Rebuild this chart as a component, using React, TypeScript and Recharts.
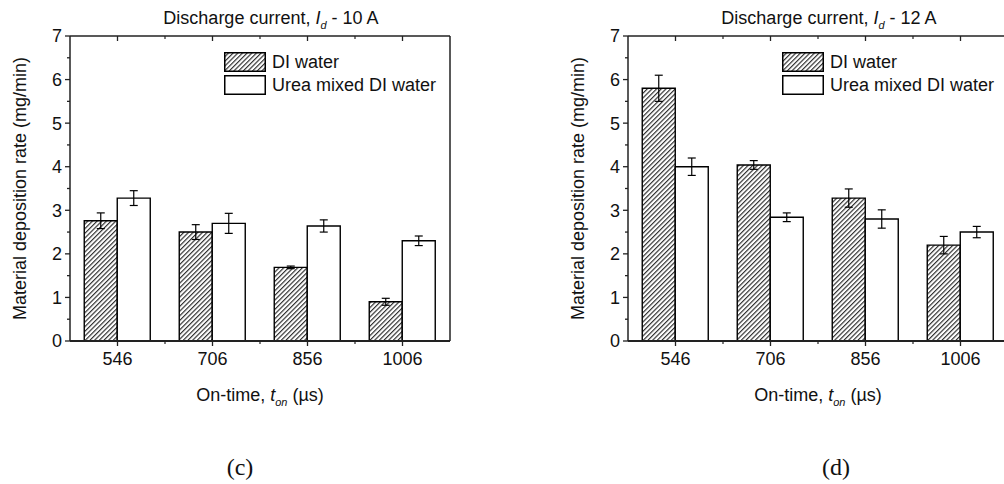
import { BarChart, Bar, XAxis, YAxis, ErrorBar, Legend } from 'recharts'

// on-time categories (µs)
const onTimes = ['546', '706', '856', '1006']

// discharge current 10 A
const diWater10 = [2.76, 2.5, 1.69, 0.9]
const diWater10Err = [0.18, 0.17, 0.03, 0.08]
const urea10 = [3.28, 2.7, 2.64, 2.3]
const urea10Err = [0.17, 0.23, 0.14, 0.11]

// discharge current 12 A
const diWater12 = [5.8, 4.04, 3.28, 2.2]
const diWater12Err = [0.3, 0.1, 0.21, 0.2]
const urea12 = [4.0, 2.84, 2.8, 2.5]
const urea12Err = [0.2, 0.1, 0.21, 0.13]

const yTicks = [0, 0.5, 1, 1.5, 2, 2.5, 3, 3.5, 4, 4.5, 5, 5.5, 6, 6.5, 7]

const CHART_W = 520
const CHART_H = 484
const Y_AXIS_W = 70
const RIGHT_W = 10
const PLOT_W = 380
const PLOT_TOP = 36
const PLOT_BOTTOM = 341
const BAND = PLOT_W / onTimes.length
const AXIS = '#222'
const TEXT = '#111'
const FONT = '"Liberation Sans", Arial, sans-serif'

interface Row {
  cat: string
  di: number
  diErr: number
  urea: number
  ureaErr: number
}

function makeRows(di: number[], diErr: number[], urea: number[], ureaErr: number[]): Row[] {
  return onTimes.map((cat, i) => ({ cat, di: di[i], diErr: diErr[i], urea: urea[i], ureaErr: ureaErr[i] }))
}

const isMajor = (v: number) => Number.isInteger(v)

// bottom axis: outward ticks, minor ones between categories
const BottomTick = (props: any) => {
  const { x, y, payload, index } = props
  return (
    <g>
      <line x1={x} x2={x} y1={y} y2={y + 5} stroke={AXIS} strokeWidth={1.3} />
      {index < onTimes.length - 1 && (
        <line x1={x + BAND / 2} x2={x + BAND / 2} y1={y} y2={y + 3} stroke={AXIS} strokeWidth={1.2} />
      )}
      <text x={x} y={y + 24} textAnchor="middle" fontSize={18} fontFamily={FONT} fill={TEXT}>
        {payload.value}
      </text>
    </g>
  )
}

// top axis mirrors the bottom ticks, pointing inward
const TopTick = (props: any) => {
  const { x, y, index } = props
  return (
    <g>
      <line x1={x} x2={x} y1={y} y2={y + 5} stroke={AXIS} strokeWidth={1.3} />
      {index < onTimes.length - 1 && (
        <line x1={x + BAND / 2} x2={x + BAND / 2} y1={y} y2={y + 3} stroke={AXIS} strokeWidth={1.2} />
      )}
    </g>
  )
}

const LeftTick = (props: any) => {
  const { x, y, payload } = props
  const major = isMajor(payload.value)
  return (
    <g>
      <line x1={x - (major ? 5 : 3)} x2={x} y1={y} y2={y} stroke={AXIS} strokeWidth={1.3} />
      {major && (
        <text x={x - 8} y={y} dy="0.36em" textAnchor="end" fontSize={18} fontFamily={FONT} fill={TEXT}>
          {payload.value}
        </text>
      )}
    </g>
  )
}

const RightTick = (props: any) => {
  const { x, y, payload } = props
  const major = isMajor(payload.value)
  return <line x1={x - (major ? 5 : 3)} x2={x} y1={y} y2={y} stroke={AXIS} strokeWidth={1.3} />
}

function LegendBox({ payload, hatchId }: any) {
  const fills: Record<string, string> = { di: `url(#${hatchId})`, urea: '#fff' }
  return (
    <div style={{ fontFamily: FONT, fontSize: 18, color: TEXT, lineHeight: '20px' }}>
      {(payload || []).map((entry: any, i: number) => (
        <div key={entry.value} style={{ display: 'flex', alignItems: 'center', marginTop: i === 0 ? 0 : 3 }}>
          <svg width={42} height={20} style={{ display: 'block' }}>
            <rect x={0.75} y={0.75} width={40.5} height={18.5} fill={fills[entry.dataKey]} stroke="#000" strokeWidth={1.5} />
          </svg>
          <span style={{ marginLeft: 6, whiteSpace: 'nowrap' }}>{entry.value}</span>
        </div>
      ))}
    </div>
  )
}

function Panel({ rows, current, hatchId, left }: { rows: Row[]; current: string; hatchId: string; left: number }) {
  return (
    <div style={{ position: 'absolute', left, top: 0 }}>
      <BarChart
        width={CHART_W}
        height={CHART_H}
        data={rows}
        margin={{ top: PLOT_TOP - 6, right: CHART_W - Y_AXIS_W - PLOT_W - RIGHT_W, bottom: 0, left: 0 }}
        barCategoryGap="15%"
        barGap={0}
      >
        <defs>
          <pattern id={hatchId} patternUnits="userSpaceOnUse" width={3.3} height={3.3} patternTransform="rotate(45)">
            <rect width={3.3} height={3.3} fill="#fff" />
            <line x1={0.6} y1={0} x2={0.6} y2={3.3} stroke="#222" strokeWidth={1.1} />
          </pattern>
        </defs>
        <XAxis
          dataKey="cat"
          height={CHART_H - PLOT_BOTTOM}
          axisLine={{ stroke: AXIS, strokeWidth: 2 }}
          tickLine={false}
          tickSize={0}
          tickMargin={0}
          tick={<BottomTick />}
          interval={0}
          label={(p: any) => {
            const vb = p.viewBox
            const cx = vb.x + vb.width / 2
            const by = vb.y + 60
            return (
              <text x={cx} y={by} textAnchor="middle" fontSize={18} fontFamily={FONT} fill={TEXT}>
                On-time,{' '}
                <tspan fontStyle="italic">t</tspan>
                <tspan fontStyle="italic" fontSize={11} dy={5}>on</tspan>
                <tspan dy={-5}> (µs)</tspan>
              </text>
            )
          }}
        />
        <XAxis
          xAxisId="top"
          dataKey="cat"
          orientation="top"
          height={6}
          axisLine={{ stroke: AXIS, strokeWidth: 1.5 }}
          tickLine={false}
          tickSize={0}
          tickMargin={0}
          tick={<TopTick />}
          interval={0}
          label={(p: any) => {
            const vb = p.viewBox
            const cx = vb.x + vb.width / 2 + 11
            return (
              <text x={cx} y={vb.y - 6} textAnchor="middle" fontSize={18} fontFamily={FONT} fill={TEXT}>
                Discharge current,{' '}
                <tspan fontStyle="italic">I</tspan>
                <tspan fontStyle="italic" fontSize={11} dy={5}>d</tspan>
                <tspan dy={-5}> - {current} A</tspan>
              </text>
            )
          }}
        />
        <YAxis
          width={Y_AXIS_W}
          domain={[0, 7]}
          ticks={yTicks}
          interval={0}
          axisLine={{ stroke: AXIS, strokeWidth: 1.5 }}
          tickLine={false}
          tickSize={0}
          tickMargin={0}
          tick={<LeftTick />}
          label={(p: any) => {
            const vb = p.viewBox
            const cx = vb.x + 20
            const cy = vb.y + vb.height / 2
            return (
              <text
                x={cx}
                y={cy}
                transform={`rotate(-90 ${cx} ${cy})`}
                textAnchor="middle"
                dominantBaseline="central"
                fontSize={18}
                fontFamily={FONT}
                fill={TEXT}
              >
                Material deposition rate (mg/min)
              </text>
            )
          }}
        />
        <YAxis
          yAxisId="right"
          orientation="right"
          width={RIGHT_W}
          domain={[0, 7]}
          ticks={yTicks}
          interval={0}
          axisLine={{ stroke: AXIS, strokeWidth: 1.5 }}
          tickLine={false}
          tickSize={0}
          tickMargin={0}
          tick={<RightTick />}
        />
        <Legend
          layout="vertical"
          align="center"
          verticalAlign="middle"
          wrapperStyle={{ left: 224, top: 52, width: 250 }}
          content={(p: any) => <LegendBox payload={p.payload} hatchId={hatchId} />}
        />
        <Bar dataKey="di" name="DI water" fill={`url(#${hatchId})`} stroke="#000" strokeWidth={1.4} isAnimationActive={false}>
          <ErrorBar dataKey="diErr" width={4} stroke="#000" strokeWidth={1.2} />
        </Bar>
        <Bar dataKey="urea" name="Urea mixed DI water" fill="#fff" stroke="#000" strokeWidth={1.4} isAnimationActive={false}>
          <ErrorBar dataKey="ureaErr" width={4} stroke="#000" strokeWidth={1.2} />
        </Bar>
      </BarChart>
    </div>
  )
}

const panelLabel = (text: string, cx: number) => (
  <div
    style={{
      position: 'absolute',
      left: cx - 30,
      top: 452,
      width: 60,
      textAlign: 'center',
      fontFamily: '"Liberation Serif", "Times New Roman", serif',
      fontSize: 24,
      lineHeight: '30px',
      color: TEXT,
    }}
  >
    {text}
  </div>
)

export default function App() {
  const rows10 = makeRows(diWater10, diWater10Err, urea10, urea10Err)
  const rows12 = makeRows(diWater12, diWater12Err, urea12, urea12Err)

  return (
    <div style={{ position: 'absolute', left: 0, top: 0, width: 1004, height: 484, overflow: 'hidden', background: '#fff' }}>
      <Panel rows={rows10} current="10" hatchId="hatch-10" left={0} />
      <Panel rows={rows12} current="12" hatchId="hatch-12" left={558} />
      {panelLabel('(c)', 240)}
      {panelLabel('(d)', 836)}
    </div>
  )
}
